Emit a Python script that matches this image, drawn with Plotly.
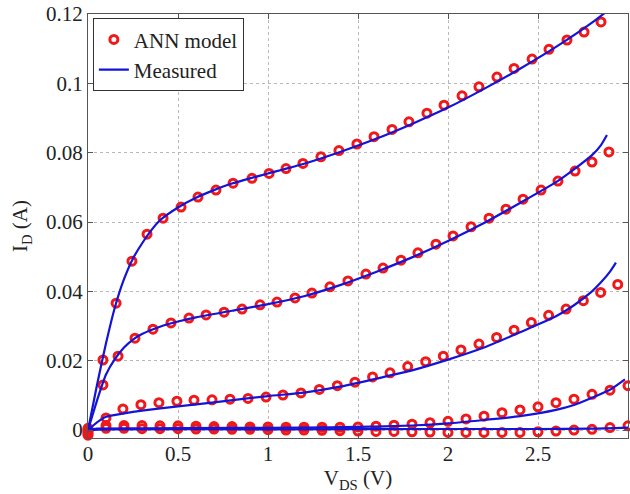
import plotly.graph_objects as go

# ANN model points (V_DS, I_D) for five gate-voltage curves
vds_ann_1 = [0, 0.083, 0.156, 0.244, 0.328, 0.417, 0.517, 0.611, 0.711, 0.806, 0.911, 1.006, 1.1, 1.194, 1.294, 1.394,
             1.494, 1.589, 1.689, 1.783, 1.883, 1.978, 2.078, 2.172, 2.272, 2.367, 2.467, 2.561, 2.661, 2.756, 2.85]
id_ann_1 = [-0.0015, 0.0202, 0.0366, 0.0487, 0.0565, 0.0611, 0.0643, 0.0672, 0.0692, 0.0712, 0.0726, 0.0740, 0.0754,
            0.0769, 0.0788, 0.0806, 0.0825, 0.0846, 0.0867, 0.0889, 0.0914, 0.0937, 0.0964, 0.0990, 0.1018, 0.1043,
            0.1070, 0.1098, 0.1125, 0.1148, 0.1177]

vds_ann_2 = [0, 0.083, 0.167, 0.261, 0.361, 0.461, 0.561, 0.656, 0.756, 0.856, 0.956, 1.05, 1.15, 1.244, 1.344, 1.444,
             1.544, 1.639, 1.739, 1.833, 1.933, 2.028, 2.128, 2.228, 2.322, 2.417, 2.517, 2.611, 2.706, 2.8, 2.894]
id_ann_2 = [-0.001, 0.0130, 0.0213, 0.0265, 0.0291, 0.0309, 0.0323, 0.0332, 0.0340, 0.0349, 0.0361, 0.0369, 0.0381,
            0.0395, 0.0413, 0.0430, 0.0450, 0.0467, 0.0490, 0.0511, 0.0536, 0.0560, 0.0586, 0.0611, 0.0637, 0.0666,
            0.0692, 0.0718, 0.0747, 0.0773, 0.0802]

vds_ann_3 = [0, 0.1, 0.194, 0.294, 0.394, 0.494, 0.589, 0.689, 0.789, 0.889, 0.989, 1.083, 1.183, 1.285, 1.385, 1.483,
             1.581, 1.678, 1.776, 1.876, 1.974, 2.072, 2.172, 2.27, 2.367, 2.463, 2.559, 2.656, 2.752, 2.848, 2.943]
id_ann_3 = [-0.0005, 0.0035, 0.0061, 0.0073, 0.0079, 0.0083, 0.0086, 0.0087, 0.0089, 0.0091, 0.0095, 0.0101, 0.0107,
            0.0117, 0.0128, 0.0138, 0.0153, 0.0165, 0.0183, 0.0197, 0.0213, 0.0231, 0.0248, 0.0267, 0.0288, 0.0310,
            0.0331, 0.0349, 0.0373, 0.0397, 0.0420]

vds_ann_45 = [0, 0.1, 0.2, 0.3, 0.4, 0.5, 0.6, 0.7, 0.8, 0.9, 1.0, 1.1, 1.2, 1.3, 1.4, 1.5, 1.6, 1.7, 1.8, 1.9, 2.0,
              2.1, 2.2, 2.3, 2.4, 2.5, 2.6, 2.7, 2.8, 2.9, 3.0]
id_ann_4 = [0.0, 0.0013, 0.0013, 0.0013, 0.0012, 0.0012, 0.0011, 0.0010, 0.0010, 0.0009, 0.0009, 0.0008, 0.0008,
            0.0008, 0.0008, 0.0009, 0.0011, 0.0014, 0.0017, 0.0021, 0.0025, 0.0032, 0.0040, 0.0050, 0.0058, 0.0067,
            0.0079, 0.0089, 0.0103, 0.0115, 0.0128]
id_ann_5 = [0.0005, 0.0005, 0.0005, 0.0004, 0.0004, 0.0004, 0.0003, 0.0003, 0.0002, 0.0002, 0.0001, 0.0, 0.0,
            -0.0001, -0.0002, -0.0003, -0.0004, -0.0004, -0.0005, -0.0006, -0.0007, -0.0007, -0.0007, -0.0007,
            -0.0007, -0.0005, -0.0003, 0.0, 0.0002, 0.0007, 0.0012]

# Measured curves
vds_meas_1 = [0, 0.05, 0.1, 0.15, 0.2, 0.25, 0.3, 0.35, 0.4, 0.5, 0.6, 0.7, 0.8, 0.9, 1.0, 1.2, 1.4, 1.6, 1.8, 2.0,
              2.2, 2.4, 2.6, 2.8, 2.9]
id_meas_1 = [0, 0.013, 0.025, 0.0355, 0.0435, 0.0495, 0.0538, 0.0575, 0.0605, 0.0642, 0.067, 0.0692, 0.0711, 0.0726,
             0.074, 0.0768, 0.0802, 0.0840, 0.0883, 0.0930, 0.0984, 0.1042, 0.1105, 0.1175, 0.1215]

vds_meas_2 = [0, 0.05, 0.1, 0.15, 0.2, 0.25, 0.3, 0.4, 0.5, 0.6, 0.8, 1.0, 1.2, 1.4, 1.6, 1.8, 2.0, 2.2, 2.4, 2.6,
              2.7, 2.8, 2.85, 2.883]
id_meas_2 = [0, 0.0085, 0.016, 0.0205, 0.0238, 0.0261, 0.0277, 0.0298, 0.0313, 0.0325, 0.0344, 0.0363, 0.0386, 0.0418,
             0.0456, 0.0498, 0.0545, 0.0597, 0.0655, 0.0715, 0.0752, 0.0793, 0.0822, 0.0851]

vds_meas_3 = [0, 0.05, 0.1, 0.2, 0.3, 0.5, 0.7, 1.0, 1.2, 1.4, 1.6, 1.8, 2.0, 2.2, 2.4, 2.6, 2.7, 2.8, 2.85, 2.9,
              2.933]
id_meas_3 = [0, 0.0022, 0.0038, 0.0048, 0.0056, 0.0068, 0.0080, 0.0098, 0.0108, 0.0125, 0.0148, 0.0172, 0.0203,
             0.0238, 0.0282, 0.0328, 0.0360, 0.0400, 0.0426, 0.0457, 0.0483]

vds_meas_4 = [0, 0.05, 0.3, 0.8, 1.2, 1.5, 1.8, 2.0, 2.2, 2.4, 2.6, 2.7, 2.8, 2.9, 2.983]
id_meas_4 = [0, 0.0004, 0.0005, 0.0006, 0.0007, 0.0009, 0.0013, 0.0019, 0.0029, 0.0040, 0.0058, 0.0072, 0.0093,
             0.0116, 0.0146]

vds_meas_5 = [0, 0.1, 1.0, 2.0, 2.5, 2.8, 3.0]
id_meas_5 = [0, 0.0002, 0.0002, 0.0003, 0.0003, 0.0004, 0.0007]

x_ticks = [0, 0.5, 1, 1.5, 2, 2.5]
x_tick_labels = ["0", "0.5", "1", "1.5", "2", "2.5"]
y_ticks = [0, 0.02, 0.04, 0.06, 0.08, 0.1, 0.12]
y_tick_labels = ["0", "0.02", "0.04", "0.06", "0.08", "0.1", "0.12"]

RED = "#f01818"
BLUE = "#1414d8"
FONT = "Liberation Serif"
TXT = "#222222"
FS = 21

fig = go.Figure()

meas = [(vds_meas_1, id_meas_1), (vds_meas_2, id_meas_2), (vds_meas_3, id_meas_3),
        (vds_meas_4, id_meas_4), (vds_meas_5, id_meas_5)]
ann = [(vds_ann_1, id_ann_1), (vds_ann_2, id_ann_2), (vds_ann_3, id_ann_3),
       (vds_ann_45, id_ann_4), (vds_ann_45, id_ann_5)]

for i, (x, y) in enumerate(ann):
    fig.add_trace(go.Scatter(
        x=x, y=y, mode="markers", name="ANN model", showlegend=(i == 0), legendrank=1,
        marker=dict(symbol="circle-open", size=8, color=RED, line=dict(width=3, color=RED)),
        cliponaxis=False,
    ))

for i, (x, y) in enumerate(meas):
    fig.add_trace(go.Scatter(
        x=x, y=y, mode="lines", name="Measured", showlegend=(i == 0), legendrank=2,
        line=dict(color=BLUE, width=2.2, shape="spline", smoothing=0.6),
    ))

axis_common = dict(
    showline=True, linecolor="#555555", linewidth=1, mirror="ticks",
    ticks="inside", ticklen=5, tickcolor="#555555",
    showgrid=True, gridcolor="#b8b8b8", griddash="dot", gridwidth=1,
    zeroline=False, tickfont=dict(family=FONT, size=FS, color=TXT),
    automargin=False, ticklabeloverflow="allow",
)

fig.update_xaxes(range=[0, 3], tickvals=x_ticks, ticktext=x_tick_labels, ticklabelstandoff=-3,
                 title=dict(text="V<sub>DS</sub> (V)", font=dict(family=FONT, size=FS, color=TXT), standoff=0),
                 **axis_common)
fig.update_yaxes(range=[-0.0023, 0.12], tickvals=y_ticks, ticktext=y_tick_labels,
                 title=dict(text="I<sub>D</sub> (A)", font=dict(family=FONT, size=FS, color=TXT), standoff=12),
                 **axis_common)

fig.update_layout(
    width=630, height=494,
    margin=dict(l=88, r=2, t=14, b=56),
    paper_bgcolor="white", plot_bgcolor="white",
    font=dict(family=FONT, size=FS, color=TXT),
    legend=dict(x=0.009, y=0.99, xanchor="left", yanchor="top",
                bgcolor="white", bordercolor="#333333", borderwidth=1,
                font=dict(family=FONT, size=FS, color=TXT),
                tracegroupgap=0, itemwidth=30),
    showlegend=True,
)

# remove the default page margin so the 630x494 figure fills the window exactly
fig.write_html("out.html", config={"displayModeBar": False},
               post_script="document.body.style.margin='0';")
